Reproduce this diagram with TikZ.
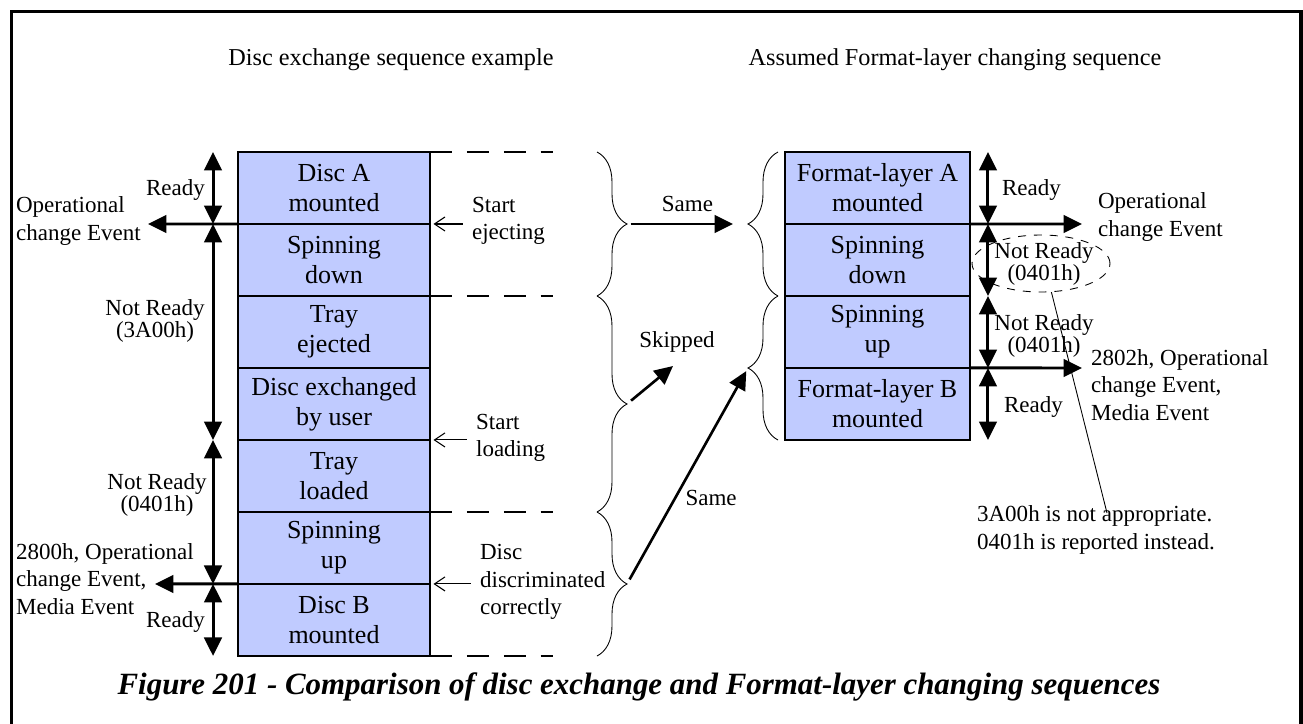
\documentclass[tikz,border=0pt]{standalone}
\usepackage{fontspec}
\setmainfont{Liberation Serif}
\usepackage{xcolor}
\usetikzlibrary{arrows.meta,positioning,calc,decorations.pathreplacing,shapes.geometric}
\definecolor{boxblue}{RGB}{192,203,255}
\newcommand{\stagefont}{\fontsize{14.8}{17}\selectfont}
\newcommand{\sidefont}{\fontsize{13.1}{15.5}\selectfont}
\newcommand{\tightfont}{\fontsize{13.1}{12.5}\selectfont}
\newcommand{\hdfont}{\fontsize{13.8}{16}\selectfont}
\newcommand{\capfont}{\fontsize{17.6}{20}\selectfont}
\tikzset{
  stage/.style     ={draw,fill=boxblue,line width=1.1pt,minimum width=3.84cm,minimum height=1.44cm,inner sep=0pt,outer sep=0pt,align=center,font=\stagefont},
  fstage/.style    ={stage,minimum width=3.7cm},
  lbl/.style       ={inner sep=1pt,align=left,font=\sidefont},
  nrlbl/.style     ={inner sep=1pt,align=center,font=\tightfont},
  tri/.tip         ={Triangle[length=10.5pt,width=10pt]},
  statearrow/.style={line width=1.7pt,tri-tri},
  eventarrow/.style={line width=1.7pt,-tri},
  cmdarrow/.style  ={line width=0.6pt,-{Straight Barb[length=6pt,width=8pt]},shorten <=4pt,shorten >=2pt},
  gapline/.style   ={line width=1.1pt,dash pattern=on 12.5pt off 8.5pt},
  grp/.style       ={decorate,decoration={brace,amplitude=0.6cm},line width=0.5pt},
  mapping/.style   ={line width=1.5pt,-tri},
}
\begin{document}
\begin{tikzpicture}[x=0.02cm,y=-0.02cm]
  \useasboundingbox (0,0) rectangle (1303,724);
  \draw[line width=1.9pt] (11.7,724) |- (1301,11.7) -- (1301,724);

  \node[font=\hdfont] (ttlL) at (391,60) {Disc exchange sequence example};
  \node[font=\hdfont] (ttlR) at (955,60) {Assumed Format-layer changing sequence};

  % disc exchange sequence
  \node[stage] (L1) at (334,188) {Disc A\\mounted};
  \node[stage,below=0pt of L1] (L2) {Spinning\\down};
  \node[stage,below=0pt of L2] (L3) {Tray\\ejected};
  \node[stage,below=0pt of L3] (L4) {Disc exchanged\\by user};
  \node[stage,below=0pt of L4] (L5) {Tray\\loaded};
  \node[stage,below=0pt of L5] (L6) {Spinning\\up};
  \node[stage,below=0pt of L6] (L7) {Disc B\\mounted};

  % format-layer changing sequence
  \node[fstage] (R1) at (877.5,188) {Format-layer A\\mounted};
  \node[fstage,below=0pt of R1] (R2) {Spinning\\down};
  \node[fstage,below=0pt of R2] (R3) {Spinning\\up};
  \node[fstage,below=0pt of R3] (R4) {Format-layer B\\mounted};

  \foreach \a/\b in {L1/L1,L2/L4,L5/L6,L7/L7}
    \draw[statearrow] ($(\a.north west)+(-25,0)$) -- ($(\b.south west)+(-25,0)$);
  \foreach \r in {R1,R2,R3,R4}
    \draw[statearrow] ($(\r.north east)+(18,0)$) -- ($(\r.south east)+(18,0)$);

  \coordinate (evL1) at (148,224);  \coordinate (evL2) at (155,584);
  \coordinate (evR1) at (1082,224); \coordinate (evR2) at (1082,368);
  \draw[eventarrow] (L1.south west) -- (evL1);
  \draw[eventarrow] (L6.south west) -- (evL2);
  \draw[eventarrow] (R1.south east) -- (evR1);
  \draw[eventarrow] (R3.south east) -- (evR2);

  \node[lbl,anchor=east] (rdyL1) at (207,190) {Ready};
  \node[lbl,anchor=west] (opL1) at (14,221) {Operational\\change Event};
  \node[nrlbl] (nrL1) at (155,321) {Not Ready\\(3A00h)};
  \node[nrlbl] (nrL2) at (157,495) {Not Ready\\(0401h)};
  \node[lbl,anchor=west] (opL2) at (14,579) {2800h, Operational\\change Event,\\Media Event};
  \node[lbl,anchor=east] (rdyL2) at (207,622) {Ready};

  \foreach \p in {L1.north east,L3.north east,L6.north east,L7.south east}
    \draw[gapline] (\p) -- ++(123,0);

  \node[lbl,anchor=west] (cmd1) at (470,221) {Start\\ejecting};
  \node[lbl,anchor=west] (cmd2) at (474,438) {Start\\loading};
  \node[lbl,anchor=west] (cmd3) at (478,582) {Disc\\discriminated\\correctly};
  \draw[cmdarrow] (cmd1.west |- L2.north east) -- (L2.north east);
  \draw[cmdarrow] (cmd2.west |- L5.north east) -- (L5.north east);
  \draw[cmdarrow] (cmd3.west |- L7.north east) -- (L7.north east);

  % braces and mapping
  \foreach \t/\b in {152/296,296/512,512/656} \draw[grp] (597,\t) -- (597,\b);
  \foreach \t/\b in {296/152,440/296} \draw[grp] (778,\t) -- (778,\b);
  \coordinate (lb1) at (627,224); \coordinate (lb2) at (627,404); \coordinate (lb3) at (627,584);
  \coordinate (rb1) at (748,224); \coordinate (rb2) at (748,368); \coordinate (skip) at (673,366);
  \draw[mapping,shorten <=2pt,shorten >=8.5pt] (lb1) -- node[lbl,above=5pt]{Same} (rb1);
  \draw[mapping,shorten <=3pt] (lb2) -- (skip);
  \node[lbl] (skiptxt) at (677,342) {Skipped};
  \draw[mapping,shorten <=3pt,shorten >=2pt] (lb3) -- node[lbl,pos=0.4,right=4pt]{Same} (rb2);

  \node[lbl,anchor=west] (rdyR1) at (1000,190) {Ready};
  \node[lbl,anchor=west] (opR1) at (1096,217) {Operational\\change Event};
  \node[nrlbl] (nrR1) at (1044,264) {Not Ready\\(0401h)};
  \node[nrlbl] (nrR2) at (1044,336) {Not Ready\\(0401h)};
  \node[lbl,anchor=west] (opR2) at (1089,385) {2802h, Operational\\change Event,\\Media Event};
  \node[lbl,anchor=west] (rdyR2) at (1002,407) {Ready};

  \node[ellipse,draw,line width=0.5pt,dash pattern=on 4.5pt off 4.5pt,inner sep=0pt,minimum width=2.76cm,minimum height=1.14cm] (oval) at (1041,263.5) {};
  \node[lbl,anchor=west] (note) at (975,530) {3A00h is not appropriate.\\0401h is reported instead.};
  \coordinate (noteend) at (1107,513);
  \draw[line width=0.5pt] (oval.-70) -- (noteend);

  \node[font=\capfont\bfseries\itshape] (cap) at (639,687) {Figure 201 - Comparison of disc exchange and Format-layer changing sequences};
\end{tikzpicture}
\end{document}
